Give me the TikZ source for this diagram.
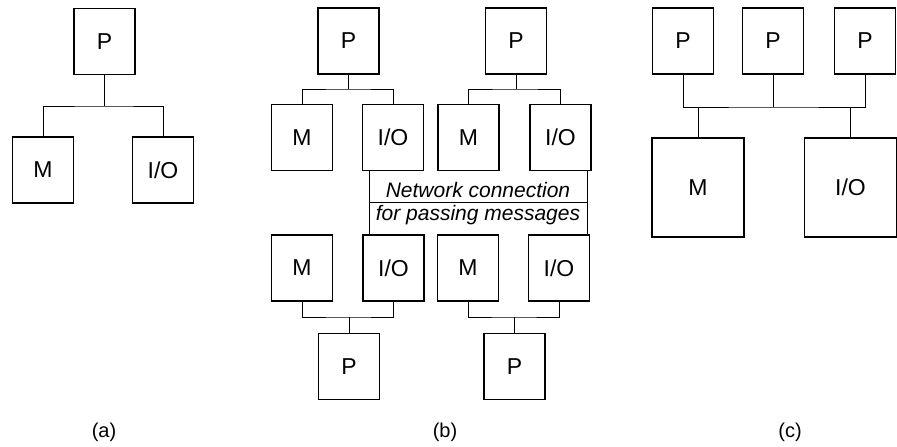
\documentclass[tikz,border=0pt]{standalone}
\usepackage{fontspec}
\setmainfont{Liberation Sans}
\begin{document}
\begin{tikzpicture}[x=1pt,y=-1pt,
  unit/.style={draw,line width=1.4pt,inner sep=0pt,minimum width=61pt,minimum height=66pt,font=\fontsize{23}{26}\selectfont},
  big/.style={unit,minimum width=92pt,minimum height=99pt},
  wire/.style={line width=0.9pt},
  nettext/.style={inner sep=0pt,font=\fontsize{21}{24}\selectfont\itshape},
  caption/.style={inner sep=0pt,font=\fontsize{20}{23}\selectfont}]
\useasboundingbox (0,0) rectangle (897,447);
% (a)
\node[unit] (Pa) at (104.5,41.5) {P};
\node[unit] (Ma) at (43,170) {M};
\node[unit] (IOa) at (163,170) {I/O};
\coordinate (ba) at (104.5,106);
\draw[wire] (Pa.south) -- (ba);
\draw[wire] (Ma.north) |- (ba) -| (IOa.north);
\node[caption] (la) at (104,432) {(a)};
% (b) top
\node[unit] (P1) at (348.5,41) {P};
\node[unit] (P2) at (516,41) {P};
\node[unit] (M1) at (302,137.5) {M};
\node[unit] (IO1) at (393,137.5) {I/O};
\node[unit] (M2) at (468.5,137.5) {M};
\node[unit] (IO2) at (560.5,137.5) {I/O};
\coordinate (b1) at (348.5,89);
\coordinate (b2) at (516,89);
\draw[wire] (P1.south) -- (b1);
\draw[wire] (M1.north) |- (b1) -| (IO1.north);
\draw[wire] (P2.south) -- (b2);
\draw[wire] (M2.north) |- (b2) -| (IO2.north);
% (b) bottom
\node[unit] (M3) at (302,268) {M};
\node[unit] (IO3) at (393.5,268) {I/O};
\node[unit] (M4) at (468,268) {M};
\node[unit] (IO4) at (559,268) {I/O};
\node[unit] (P3) at (349,366.5) {P};
\node[unit] (P4) at (514.5,366.5) {P};
\coordinate (b3) at (349,317);
\coordinate (b4) at (514.5,317);
\draw[wire] (P3.north) -- (b3);
\draw[wire] (M3.south) |- (b3) -| (IO3.south);
\draw[wire] (P4.north) -- (b4);
\draw[wire] (M4.south) |- (b4) -| (IO4.south);
% network
\coordinate (nl) at (369,202);
\coordinate (nr) at (587,202);
\draw[wire] (IO1.south -| nl) -- (IO3.north -| nl);
\draw[wire] (IO2.south -| nr) -- (IO4.north -| nr);
\draw[wire] (nl) -- (nr);
\node[nettext] (nt1) at (478,189.5) {Network connection};
\node[nettext] (nt2) at (478,215) {for passing messages};
\node[caption] (lb) at (445,432) {(b)};
% (c)
\node[unit] (Pc1) at (683,41) {P};
\node[unit] (Pc2) at (773,41) {P};
\node[unit] (Pc3) at (865,41) {P};
\node[big] (Mc) at (698,187.5) {M};
\node[big] (IOc) at (850.5,187.5) {I/O};
\coordinate (bc) at (773,107);
\draw[wire] (Pc2.south) -- (bc);
\draw[wire] (Pc1.south) |- (bc) -| (Pc3.south);
\draw[wire] (Mc.north) -- (Mc.north |- bc);
\draw[wire] (IOc.north) -- (IOc.north |- bc);
\node[caption] (lc) at (790,432) {(c)};
\end{tikzpicture}
\end{document}
